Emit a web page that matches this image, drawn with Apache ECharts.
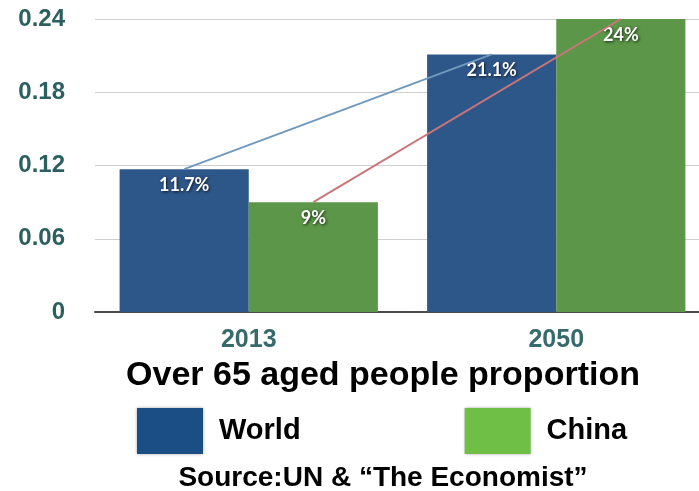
<!DOCTYPE html>
<html>
<head>
<meta charset="utf-8">
<title>Over 65 aged people proportion</title>
<script src="https://cdn.jsdelivr.net/npm/echarts@6/dist/echarts.min.js"></script>
<style>
    html, body { margin: 0; padding: 0; background: #fff; }
    #container { width: 699px; height: 491px; }
</style>
</head>
<body>
<div id="container"></div>
<script>
// 数据
let years = ['2013', '2050']
let worldData = [0.117, 0.211]
let chinaData = [0.09, 0.24]
let worldLabels = ['11.7%', '21.1%']
let chinaLabels = ['9%', '24%']
let yTicks = [0, 0.06, 0.12, 0.18, 0.24]

let barGapRatio = 0.16 // barCategoryGap
// 柱子中心相对类目中心的偏移(单位: 类目宽)
let barOffset = (1 - barGapRatio) / 4

const pointsOf = (list, sign) => list.map((v, i) => [i + sign * barOffset, v])

let tickFont = '"Liberation Sans", Arial, sans-serif'

let barLabel = {
    show: true,
    position: 'insideTop',
    distance: 7,
    fontFamily: 'Lato, sans-serif',
    fontWeight: 'bold',
    fontSize: 18,
    color: '#fff',
    textShadowColor: 'rgba(0,0,0,0.75)',
    textShadowBlur: 3,
    textShadowOffsetX: 1,
    textShadowOffsetY: 1,
}

let option = {
    animation: false,
    grid: {
        left: 95,
        width: 615, // 右侧超出画布
        top: 19,
        bottom: 179,
        outerBoundsMode: 'none',
    },
    legend: {
        left: 137,
        top: 408,
        padding: 0,
        itemWidth: 66,
        itemHeight: 46,
        itemGap: 164,
        icon: 'rect',
        selectedMode: false,
        textStyle: {
            fontFamily: tickFont,
            fontWeight: 'bold',
            fontSize: 29,
            color: '#000',
            padding: [0, 0, 0, 11],
        },
        data: [
            { name: 'World', itemStyle: { color: '#1b4e85', shadowBlur: 3, shadowColor: 'rgba(0,0,0,0.35)' } },
            { name: 'China', itemStyle: { color: '#6fbe45', shadowBlur: 3, shadowColor: 'rgba(0,0,0,0.35)' } },
        ],
    },
    xAxis: [
        {
            type: 'category',
            data: years,
            axisTick: { show: false },
            axisLine: {
                lineStyle: { color: '#4a4a4a', width: 2 },
            },
            axisLabel: {
                margin: 16,
                fontFamily: tickFont,
                fontWeight: 'bold',
                fontSize: 25,
                color: '#376b6b',
            },
        },
        {
            // 折线用的隐藏轴, 让折线端点落在柱子中心
            type: 'value',
            min: -0.5,
            max: years.length - 0.5,
            show: false,
        },
    ],
    yAxis: {
        type: 'value',
        min: yTicks[0],
        max: yTicks[yTicks.length - 1],
        interval: 0.06,
        axisLine: { show: false },
        axisTick: { show: false },
        splitLine: {
            lineStyle: { color: '#cfcfcf', width: 1 },
        },
        axisLabel: {
            margin: 30,
            fontFamily: tickFont,
            fontWeight: 'bold',
            fontSize: 24,
            color: '#2c6060',
            formatter: (v) => String(+v.toFixed(2)),
        },
    },
    series: [
        {
            name: 'World',
            type: 'bar',
            barGap: '0%',
            barCategoryGap: barGapRatio * 100 + '%',
            itemStyle: { color: '#2e5789' },
            label: Object.assign({}, barLabel, {
                formatter: (p) => worldLabels[p.dataIndex],
            }),
            data: worldData,
        },
        {
            name: 'China',
            type: 'bar',
            barGap: '0%',
            barCategoryGap: barGapRatio * 100 + '%',
            itemStyle: { color: '#5c9649' },
            label: Object.assign({}, barLabel, {
                formatter: (p) => chinaLabels[p.dataIndex],
            }),
            data: chinaData,
        },
        {
            name: 'World trend',
            type: 'line',
            xAxisIndex: 1,
            showSymbol: false,
            z: 3,
            lineStyle: { color: '#7099bd', width: 2 },
            data: pointsOf(worldData, -1),
        },
        {
            name: 'China trend',
            type: 'line',
            xAxisIndex: 1,
            showSymbol: false,
            z: 3,
            lineStyle: { color: '#c9767b', width: 2 },
            data: pointsOf(chinaData, 1),
        },
    ],
    graphic: [
        {
            type: 'text',
            style: {
                text: 'Over 65 aged people proportion',
                x: 383,
                y: 376,
                textAlign: 'center',
                textVerticalAlign: 'middle',
                fontFamily: tickFont,
                fontWeight: 'bold',
                fontSize: 34,
                fill: '#000',
            },
        },
        {
            type: 'text',
            style: {
                text: 'Source:UN & \u201cThe Economist\u201d',
                x: 383,
                y: 478,
                textAlign: 'center',
                textVerticalAlign: 'middle',
                fontFamily: tickFont,
                fontWeight: 'bold',
                fontSize: 28,
                fill: '#000',
            },
        },
    ],
}

let myChart = echarts.init(document.getElementById('container'))
myChart.setOption(option)
</script>
</body>
</html>
